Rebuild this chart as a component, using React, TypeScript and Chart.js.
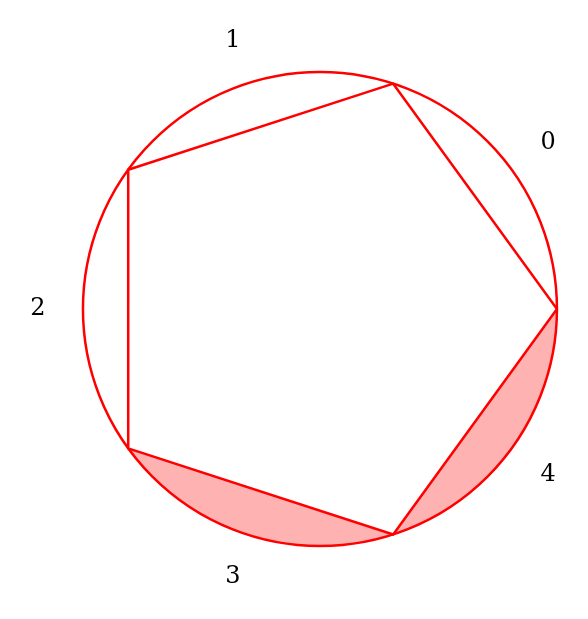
import React, { useRef, useEffect } from "react";
import { Chart, registerables } from "chart.js";

Chart.register(...registerables);

// vertex angles of the inscribed pentagon (degrees, counter-clockwise from +x)
const vertexAngles = [0, 72, 144, 216, 288];
// labels sit between vertices
const sectorLabels = ["0", "1", "2", "3", "4"];
const labelAngles = [36, 108, 180, 252, 324];
// sectors whose circular segment (outside the chord) is shaded
const shadedSectors = [3, 4];
const radius = 1;
const labelRadius = 1.19;

const rad = (d: number) => (d * Math.PI) / 180;

const pentagon = [...vertexAngles, vertexAngles[0]].map((a) => ({
  x: radius * Math.cos(rad(a)),
  y: radius * Math.sin(rad(a)),
}));

const circlePlugin = {
  id: "circleDecor",
  beforeDatasetsDraw(chart: any) {
    const { ctx, scales } = chart;
    const cx = scales.x.getPixelForValue(0);
    const cy = scales.y.getPixelForValue(0);
    const r = scales.x.getPixelForValue(radius) - cx;
    ctx.save();
    // shaded segments
    ctx.fillStyle = "rgba(255,0,0,0.3)";
    shadedSectors.forEach((k) => {
      const a0 = rad(vertexAngles[k]);
      const a1 = rad(k + 1 < vertexAngles.length ? vertexAngles[k + 1] : 360);
      ctx.beginPath();
      ctx.arc(cx, cy, r, -a0, -a1, true);
      ctx.closePath();
      ctx.fill();
    });
    // circle
    ctx.strokeStyle = "#ff0000";
    ctx.lineWidth = 2.5;
    ctx.beginPath();
    ctx.arc(cx, cy, r, 0, Math.PI * 2);
    ctx.stroke();
    // labels
    ctx.fillStyle = "#000";
    ctx.font = "24px 'DejaVu Serif', serif";
    ctx.textAlign = "center";
    ctx.textBaseline = "middle";
    sectorLabels.forEach((t, i) => {
      const a = rad(labelAngles[i]);
      ctx.fillText(
        t,
        scales.x.getPixelForValue(labelRadius * Math.cos(a)),
        scales.y.getPixelForValue(labelRadius * Math.sin(a))
      );
    });
    ctx.restore();
  },
};

export default function App() {
  const ref = useRef<HTMLCanvasElement>(null);
  useEffect(() => {
    document.body.style.margin = "0";
    if (!ref.current) return;
    const chart = new Chart(ref.current, {
      type: "scatter",
      data: {
        datasets: [
          {
            data: pentagon,
            showLine: true,
            borderColor: "#ff0000",
            borderWidth: 2.5,
            pointRadius: 0,
            fill: false,
          },
        ],
      },
      options: {
        responsive: false,
        animation: false,
        layout: { padding: 0 },
        plugins: { legend: { display: false }, tooltip: { enabled: false } },
        scales: {
          x: { type: "linear", display: false, min: -1.35, max: 1.131 },
          y: { type: "linear", display: false, min: -1.308, max: 1.304 },
        },
      },
      plugins: [circlePlugin],
    });
    return () => chart.destroy();
  }, []);
  return <canvas ref={ref} width={588} height={619} />;
}
